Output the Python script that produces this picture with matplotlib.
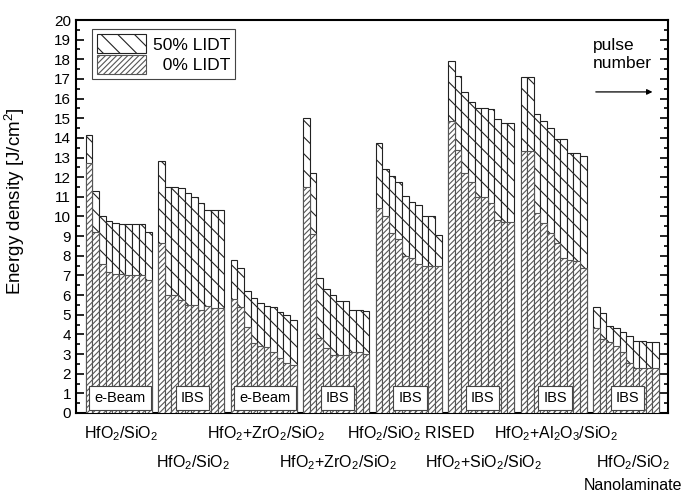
import matplotlib
matplotlib.use("Agg")
import matplotlib.pyplot as plt
from matplotlib.patches import Patch
import numpy as np

plt.rcParams['font.family'] = ['Liberation Sans', 'DejaVu Sans']
plt.rcParams['mathtext.fontset'] = 'custom'
plt.rcParams['mathtext.rm'] = 'Liberation Sans'
plt.rcParams['mathtext.it'] = 'Liberation Sans:italic'
plt.rcParams['hatch.linewidth'] = 0.8

# coating designs, deposition process and label row (0 = upper, 1 = lower)
coatings = [r"HfO$_2$/SiO$_2$", r"HfO$_2$/SiO$_2$", r"HfO$_2$+ZrO$_2$/SiO$_2$",
            r"HfO$_2$+ZrO$_2$/SiO$_2$", r"HfO$_2$/SiO$_2$ RISED",
            r"HfO$_2$+SiO$_2$/SiO$_2$", r"HfO$_2$+Al$_2$O$_3$/SiO$_2$",
            r"HfO$_2$/SiO$_2$"]
subnotes = ["", "", "", "", "", "", "", "Nanolaminate"]
process = ["e-Beam", "IBS", "e-Beam", "IBS", "IBS", "IBS", "IBS", "IBS"]
label_row = [0, 1, 0, 1, 0, 1, 0, 1]

# 50% LIDT per pulse-number step (10 steps each)
lidt_50 = [
    [14.15, 11.3, 10.0, 9.75, 9.65, 9.62, 9.62, 9.62, 9.62, 9.23],
    [12.8, 11.5, 11.5, 11.45, 11.2, 11.0, 10.7, 10.35, 10.35, 10.35],
    [7.8, 7.4, 6.22, 5.85, 5.6, 5.45, 5.4, 5.15, 5.0, 4.72],
    [15.0, 12.2, 6.85, 6.3, 6.0, 5.7, 5.7, 5.25, 5.25, 5.2],
    [13.72, 12.4, 12.08, 11.77, 11.05, 10.75, 10.6, 10.05, 10.05, 9.05],
    [17.9, 17.15, 16.35, 15.82, 15.5, 15.5, 15.45, 14.94, 14.78, 14.78],
    [17.12, 17.12, 15.2, 14.86, 14.52, 13.93, 13.93, 13.25, 13.22, 13.06],
    [5.38, 5.07, 4.45, 4.3, 4.1, 3.94, 3.64, 3.64, 3.6, 3.6],
]

# 0% LIDT per pulse-number step
lidt_0 = [
    [12.7, 9.23, 7.57, 7.18, 7.07, 7.07, 7.02, 7.02, 7.02, 6.78],
    [8.63, 5.98, 5.98, 5.75, 5.5, 5.5, 5.24, 5.42, 5.34, 5.34],
    [5.78, 5.38, 4.4, 3.55, 3.43, 3.38, 3.12, 2.8, 2.56, 2.45],
    [11.52, 9.11, 3.8, 3.3, 2.97, 2.97, 2.97, 3.1, 3.1, 3.0],
    [10.42, 10.03, 9.15, 8.85, 8.0, 7.9, 7.6, 7.5, 7.5, 7.5],
    [14.86, 13.38, 12.2, 11.77, 11.0, 11.0, 10.7, 9.82, 9.7, 9.7],
    [13.33, 13.33, 10.16, 9.65, 9.14, 8.63, 7.9, 7.8, 7.72, 7.36],
    [4.31, 3.75, 3.63, 3.4, 3.12, 2.53, 2.31, 2.31, 2.29, 2.29],
]

n_steps = len(lidt_50[0])
slot = n_steps + 1  # one empty bar slot between groups

fig = plt.figure(figsize=(6.84, 4.94), dpi=100)
ax = fig.add_axes([0.111, 0.164, 0.866, 0.7955])

for g in range(len(coatings)):
    x = g * slot + np.arange(n_steps)
    ax.bar(x, lidt_50[g], width=1.0, align='edge', color='white',
           edgecolor='#222222', linewidth=0.8, hatch='\\\\', zorder=2)
    ax.bar(x, lidt_0[g], width=1.0, align='edge', color='white',
           edgecolor='#555555', linewidth=0.8, hatch='//////', zorder=3)

    xc = g * slot + n_steps / 2
    ax.text(xc + 0.2, 0.77, process[g], ha='center', va='center', fontsize=10.5,
            zorder=5, bbox=dict(boxstyle='square,pad=0.35', fc='white',
                                ec='#444444', lw=0.8))
    ty = -0.052 if label_row[g] == 0 else -0.127
    shift = 1.0 if subnotes[g] else 0.3
    ax.text(xc + shift, ty, coatings[g], transform=ax.get_xaxis_transform(),
            ha='center', va='center', fontsize=11.5)
    if subnotes[g]:
        ax.text(xc + shift, ty - 0.058, subnotes[g],
                transform=ax.get_xaxis_transform(), ha='center', va='center',
                fontsize=11.5)

ax.set_xlim(-1.5, len(coatings) * slot - 1 + 1.4)
ax.set_ylim(0, 20)
ax.set_xticks([])
ax.set_yticks(np.arange(0, 21, 1))
ax.set_yticks(np.arange(0, 20, 0.5), minor=True)
ax.tick_params(axis='y', which='both', direction='in', right=True,
               labelsize=11, width=1.2)
ax.tick_params(axis='y', which='major', length=6)
ax.tick_params(axis='y', which='minor', length=3)
for sp in ax.spines.values():
    sp.set_linewidth(1.5)

ax.set_ylabel(r"Energy density [J/cm$^2$]", fontsize=13.5)
ax.yaxis.set_label_coords(-0.082, 0.54)

handles = [Patch(facecolor='white', edgecolor='#222222', hatch='\\\\', lw=0.8),
           Patch(facecolor='white', edgecolor='#555555', hatch='//////', lw=0.8)]
leg = ax.legend(handles, ["50% LIDT", "  0% LIDT"], loc='upper left',
                bbox_to_anchor=(0.027, 0.977), borderaxespad=0, fontsize=12.5,
                fancybox=False, framealpha=1, edgecolor='#444444',
                handlelength=2.8, handleheight=1.3, labelspacing=0.1,
                borderpad=0.3, handletextpad=0.4)
leg.get_frame().set_linewidth(0.8)

ax.text(0.873, 0.912, "pulse\nnumber", transform=ax.transAxes, ha='left',
        va='center', fontsize=12.5, linespacing=1.2)
ax.annotate('', xy=(0.978, 0.817), xytext=(0.873, 0.817),
            xycoords='axes fraction',
            arrowprops=dict(arrowstyle='-|>', lw=0.9, color='black',
                            mutation_scale=8))

fig.savefig("out.png", dpi=100)
